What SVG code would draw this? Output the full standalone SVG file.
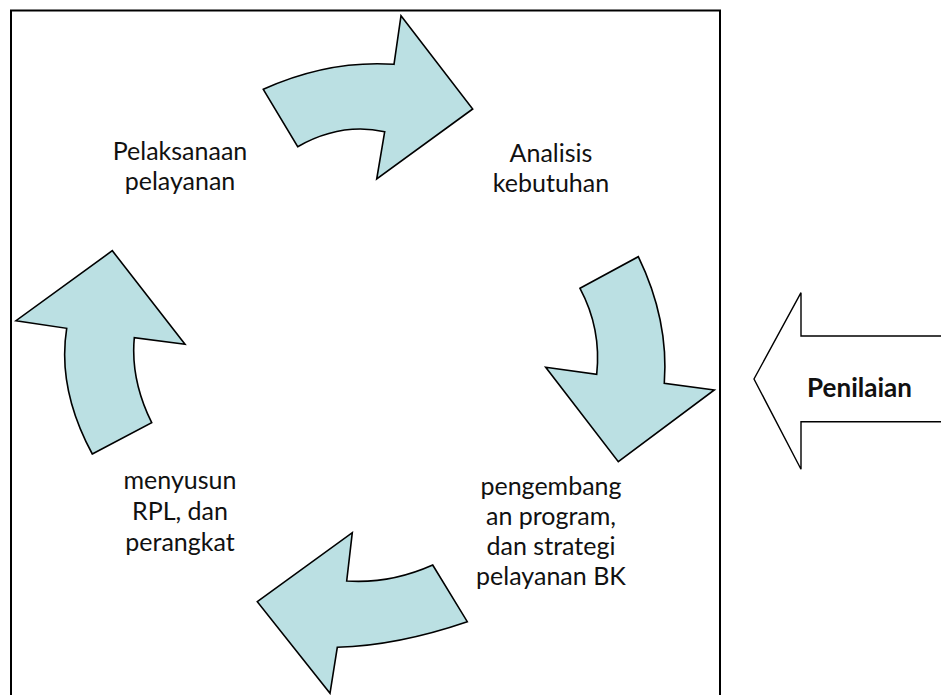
<svg xmlns="http://www.w3.org/2000/svg" width="941" height="695" viewBox="0 0 941 695">
<style>
.frame{fill:none;stroke:#000;stroke-width:2}
.cyc{fill:#BBE0E3;stroke:#000;stroke-width:1.6;stroke-linejoin:miter}
.big{fill:#fff;stroke:#000;stroke-width:1.4}
.lbl{font-family:Lato,"Liberation Sans",sans-serif;font-size:25px;fill:#111;text-anchor:middle}
.bold{font-weight:bold;font-size:26px}
</style>
<rect width="941" height="695" fill="#fff"/>
<rect class="frame" x="11" y="10.5" width="709" height="700"/>
<g id="connectors">
  <path id="arrow-top" class="cyc" d="M263.3,89.3 Q328,60 394,64.3 L401,15.7 L472.7,109 L376.7,179 L384.7,131.7 Q340.8,122.2 297.7,146.7 Z"/>
  <path id="arrow-right" class="cyc" d="M580,288.3 L638.3,256.7 Q669,320 664.3,383.3 L714.3,390 L618.3,461.7 L545.7,367.3 L596.7,374.3 Q601.6,328.7 580,288.3 Z"/>
  <path id="arrow-bottom" class="cyc" d="M432.7,565 L467.3,621.7 Q397.7,645.5 337.3,647.3 L330,693.3 L257.3,601.7 L352.3,532.7 L346.7,581 Q390,584 432.7,565 Z"/>
  <path id="arrow-left" class="cyc" d="M92.3,454 L151.7,422.7 Q130.4,379.8 134.3,337.7 L185,344.3 L112.3,250.7 L16,320.7 L66.7,328.3 Q57.1,388.8 92.3,454 Z"/>
</g>
<g id="node-pelaksanaan">
  <text class="lbl" x="180" y="160">Pelaksanaan</text>
  <text class="lbl" x="180" y="190">pelayanan</text>
</g>
<g id="node-analisis">
  <text class="lbl" x="551" y="162">Analisis</text>
  <text class="lbl" x="551" y="192">kebutuhan</text>
</g>
<g id="node-pengembangan">
  <text class="lbl" x="551" y="495">pengembang</text>
  <text class="lbl" x="551" y="525">an program,</text>
  <text class="lbl" x="551" y="555">dan strategi</text>
  <text class="lbl" x="551" y="585">pelayanan BK</text>
</g>
<g id="node-menyusun">
  <text class="lbl" x="180" y="489">menyusun</text>
  <text class="lbl" x="180" y="520">RPL, dan</text>
  <text class="lbl" x="180" y="551">perangkat</text>
</g>
<g id="node-penilaian">
  <path class="big" d="M945,336 L801,336 L801,292.7 L754,379 L801,469.3 L801,421.7 L945,421.7"/>
  <text class="lbl bold" x="859.5" y="397">Penilaian</text>
</g>
</svg>
